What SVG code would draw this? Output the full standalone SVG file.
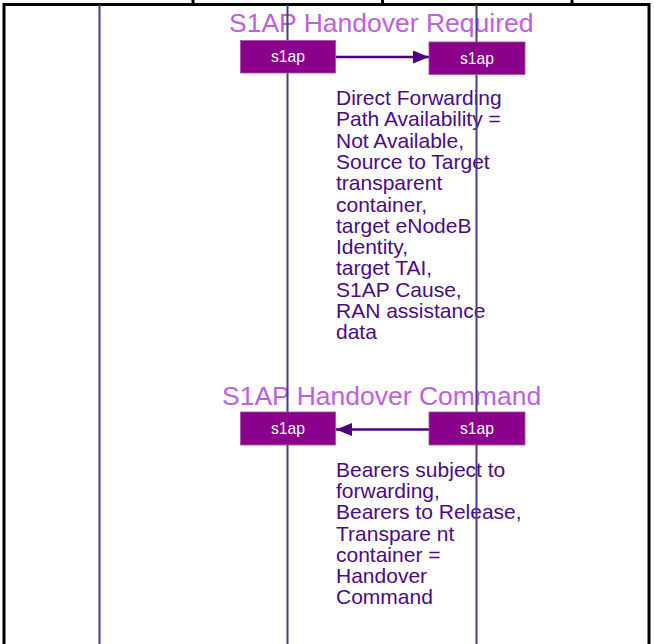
<svg xmlns="http://www.w3.org/2000/svg" width="654" height="644" viewBox="0 0 654 644">
<style>
.frame{stroke:#000;stroke-width:3;fill:none}
.life{stroke:#483d8b;stroke-width:2;fill:none}
.box{fill:#8b008b;stroke:#a64ca6;stroke-width:0.8}
.boxt{fill:#fff;font-family:"Liberation Sans",Arial,sans-serif;font-size:17px;text-anchor:middle}
.title{fill:#c060dc;font-family:"Liberation Sans",Arial,sans-serif;font-size:26.5px}
.body{fill:#4b0a8a;font-family:"Liberation Sans",Arial,sans-serif;font-size:21px}
.msg{stroke:#4b0082;stroke-width:2.5;fill:none}
</style>
<defs>
<marker id="ah" viewBox="0 0 16 13" refX="16" refY="6.5" markerWidth="16" markerHeight="13" markerUnits="userSpaceOnUse" orient="auto">
<path d="M0,0 L16,6.5 L0,13 Z" fill="#4b0082"/>
</marker>
</defs>
<rect width="654" height="644" fill="#fff"/>
<g id="frame">
<line class="frame" x1="4" y1="4.5" x2="650" y2="4.5"/>
<line class="frame" x1="4" y1="3" x2="4" y2="644"/>
<line class="frame" x1="649" y1="3" x2="649" y2="644"/>
<line class="frame" x1="193" y1="0" x2="193" y2="4"/>
<line class="frame" x1="382.5" y1="0" x2="382.5" y2="4"/>
<line class="frame" x1="572" y1="0" x2="572" y2="4"/>
</g>
<g id="labels">
<text class="title" x="229" y="32">S1AP Handover Required</text>
<text class="body" x="336">
<tspan x="336" y="105">Direct Forwarding</tspan>
<tspan x="336" y="126.3">Path Availability =</tspan>
<tspan x="336" y="147.6">Not Available,</tspan>
<tspan x="336" y="168.9">Source to Target</tspan>
<tspan x="336" y="190.2">transparent</tspan>
<tspan x="336" y="211.5">container,</tspan>
<tspan x="336" y="232.8">target eNodeB</tspan>
<tspan x="336" y="254.1">Identity,</tspan>
<tspan x="336" y="275.4">target TAI,</tspan>
<tspan x="336" y="296.7">S1AP Cause,</tspan>
<tspan x="336" y="318">RAN assistance</tspan>
<tspan x="336" y="339.3">data</tspan>
</text>
<text class="title" x="222" y="405">S1AP Handover Command</text>
<text class="body" x="336">
<tspan x="336" y="477">Bearers subject to</tspan>
<tspan x="336" y="498.2">forwarding,</tspan>
<tspan x="336" y="519.4">Bearers to Release,</tspan>
<tspan x="336" y="540.6">Transpare nt</tspan>
<tspan x="336" y="561.8">container =</tspan>
<tspan x="336" y="583">Handover</tspan>
<tspan x="336" y="604.2">Command</tspan>
</text>
</g>
<g id="lifelines">
<line class="life" x1="99.5" y1="5" x2="99.5" y2="644"/>
<line class="life" x1="287.5" y1="5" x2="287.5" y2="644"/>
<line class="life" x1="476.5" y1="5" x2="476.5" y2="644"/>
</g>
<g id="connectors">
<line class="msg" x1="336" y1="57" x2="429" y2="57" marker-end="url(#ah)"/>
<line class="msg" x1="429" y1="429.5" x2="336" y2="429.5" marker-end="url(#ah)"/>
</g>
<g id="n1">
<rect class="box" x="240.5" y="40.5" width="95" height="32.5"/>
<text class="boxt" x="288" y="62" textLength="34" lengthAdjust="spacingAndGlyphs">s1ap</text>
</g>
<g id="n2">
<rect class="box" x="429" y="42" width="96" height="32.5"/>
<text class="boxt" x="477" y="63.5" textLength="34" lengthAdjust="spacingAndGlyphs">s1ap</text>
</g>
<g id="n3">
<rect class="box" x="240.5" y="412" width="95" height="33"/>
<text class="boxt" x="288" y="434" textLength="34" lengthAdjust="spacingAndGlyphs">s1ap</text>
</g>
<g id="n4">
<rect class="box" x="429" y="412" width="96" height="33"/>
<text class="boxt" x="477" y="434" textLength="34" lengthAdjust="spacingAndGlyphs">s1ap</text>
</g>
</svg>
